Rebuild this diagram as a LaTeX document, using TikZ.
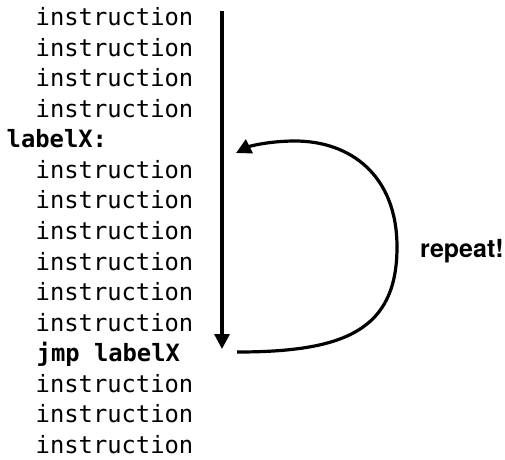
\documentclass[tikz,border=0pt]{standalone}
\usepackage{fontspec}
\setmainfont{TeX Gyre Heros}
\newfontfamily\codefont{DejaVu Sans Mono}
\usetikzlibrary{positioning,arrows.meta}

\begin{document}
\begin{tikzpicture}[x=1pt, y=-1pt,
  codeline/.style={anchor=base west, inner sep=0pt,
                   font={\codefont\fontsize{23.8pt}{28pt}\selectfont}},
  boldline/.style={codeline, font={\codefont\bfseries\fontsize{23.8pt}{28pt}\selectfont}},
  nextline/.style={codeline, at={([yshift=-30.57pt]#1.base west)}},
  flow/.style={line width=3.2pt, -{Triangle[length=15pt, width=15pt]}},
]
  \useasboundingbox (0,0) rectangle (505,459);

  \node[codeline] (top1) at (35.5,25.5) {instruction};
  \node[nextline=top1] (top2) {instruction};
  \node[nextline=top2] (top3) {instruction};
  \node[nextline=top3] (top4) {instruction};
  \node[boldline] (lblx) at ([xshift=-29pt, yshift=-30.57pt]top4.base west) {labelX:};
  \node[codeline] (loop1) at ([xshift=29pt, yshift=-30.57pt]lblx.base west) {instruction};
  \node[nextline=loop1] (loop2) {instruction};
  \node[nextline=loop2] (loop3) {instruction};
  \node[nextline=loop3] (loop4) {instruction};
  \node[nextline=loop4] (loop5) {instruction};
  \node[nextline=loop5] (loop6) {instruction};
  \node[boldline] (jmp) at ([xshift=1pt, yshift=-30.57pt]loop6.base west) {jmp labelX};
  \node[codeline] (tail1) at ([xshift=-1pt, yshift=-30.57pt]jmp.base west) {instruction};
  \node[nextline=tail1] (tail2) {instruction};
  \node[nextline=tail2] (tail3) {instruction};

  \node[font=\bfseries\fontsize{25pt}{30pt}\selectfont, anchor=base west, inner sep=0pt]
    (rep) at (420,257) {repeat!};

  % program flow and the jump back
  \coordinate (flowtop) at (222,11);
  \coordinate (flowbot) at (222,349);
  \coordinate (loopstart) at (237,352);
  \coordinate (loopend) at (236,153);

  \draw[flow] (flowtop) -- (flowbot);
  \draw[flow] (loopstart) .. controls (345,352) and (397,330) .. (397,247)
    .. controls (397,175) and (350,141) .. (295,141)
    .. controls (270,141) and (250,146) .. (loopend);
\end{tikzpicture}
\end{document}
